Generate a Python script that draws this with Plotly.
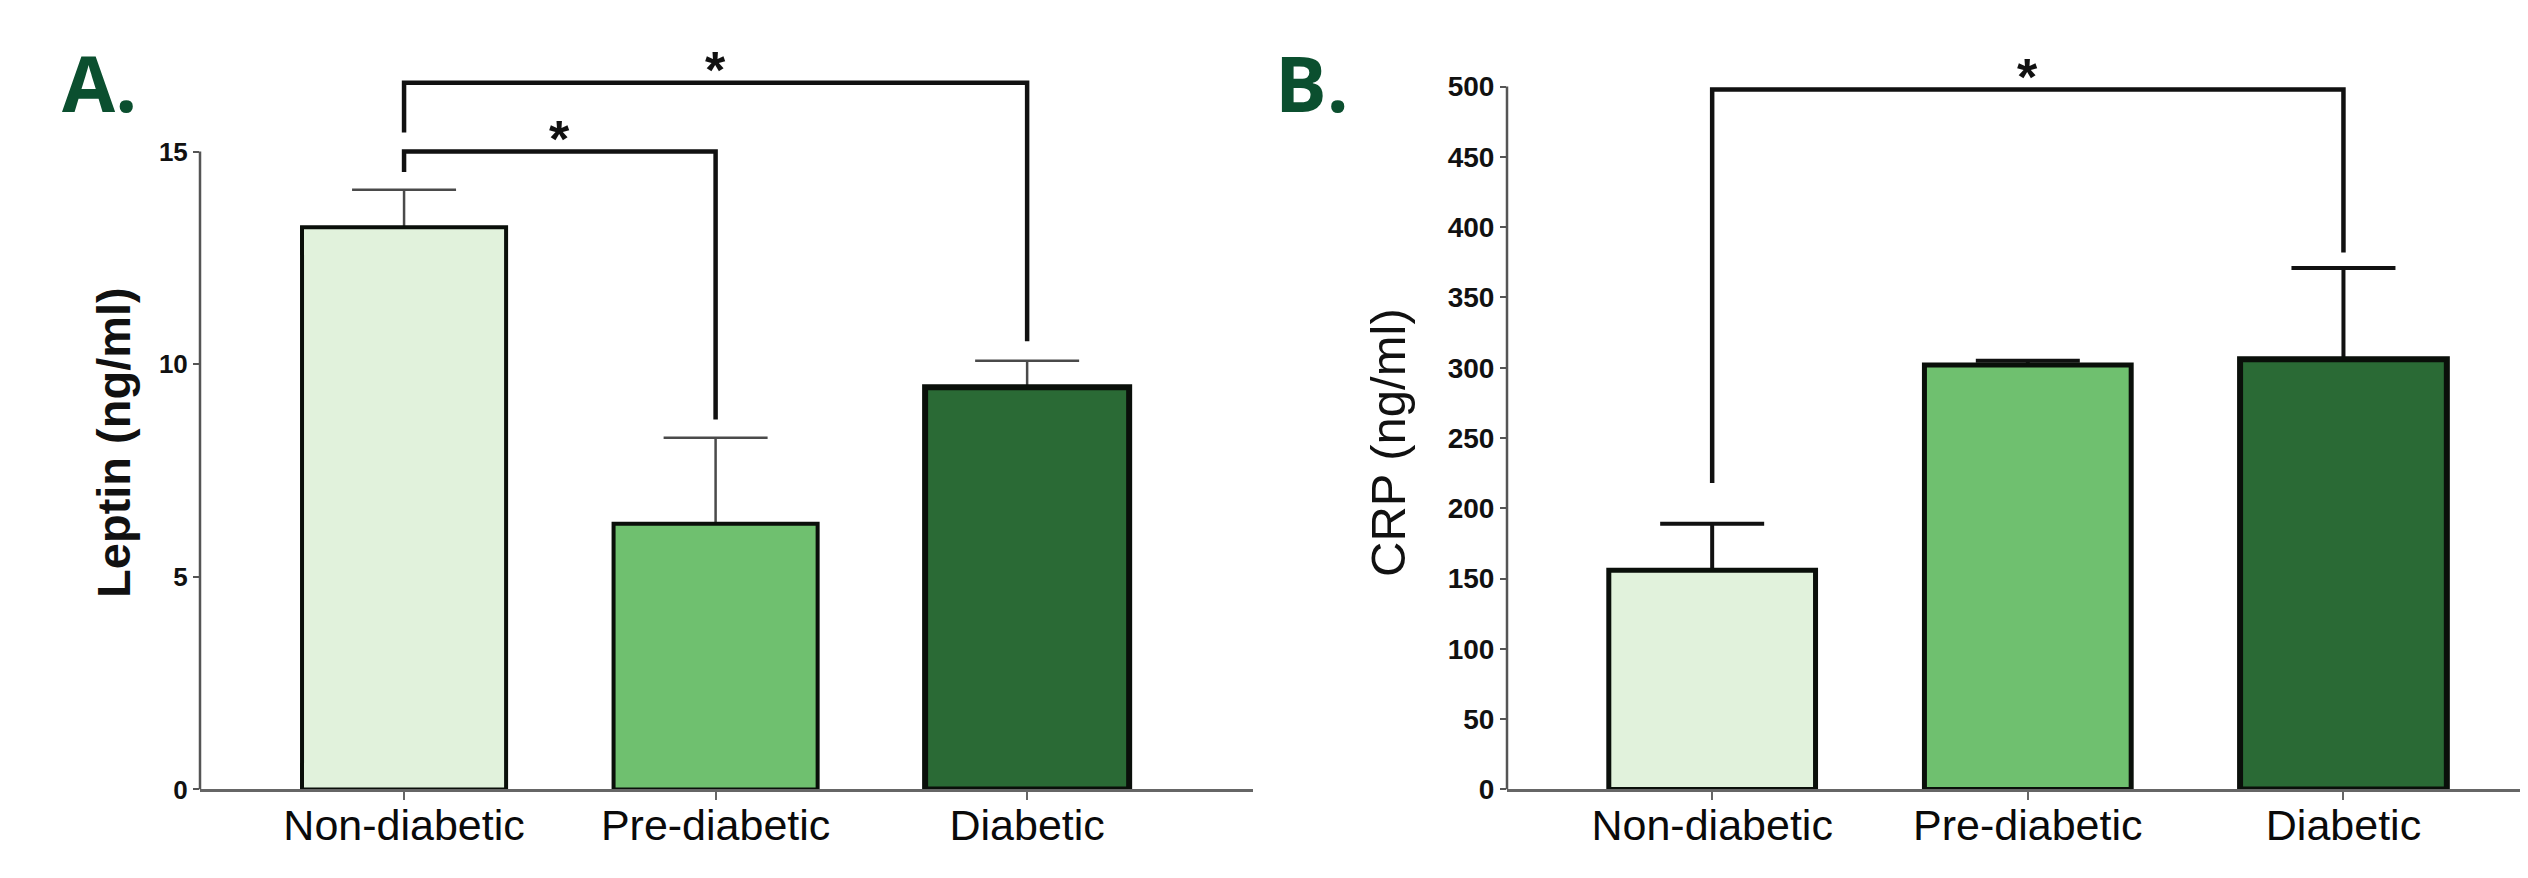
import plotly.graph_objects as go

# ---------------- data ----------------
categories = ["Non-diabetic", "Pre-diabetic", "Diabetic"]
bar_colors = ["#e1f2dc", "#6fc06f", "#2a6a35"]

leptin_mean = [13.22, 6.25, 9.46]
leptin_err = [0.88, 2.02, 0.62]

crp_mean = [156, 302, 306]
crp_err = [33, 3, 65]

# significance brackets: (start index, end index, top, left-leg bottom, right-leg bottom, star)
leptin_brackets = [(0, 1, 15.0, 14.52, 8.7, "*"), (0, 2, 16.62, 15.45, 10.54, "*")]
crp_brackets = [(0, 2, 498, 218, 382, "*")]

leptin_ticks = [0, 5, 10, 15]
crp_ticks = [0, 50, 100, 150, 200, 250, 300, 350, 400, 450, 500]

W, H = 2528, 878
fig = go.Figure()

def add_panel(xa, ya, means, errs, err_color, err_thick, outline_w):
    xs = list(range(len(categories)))
    # error bars (drawn first, bar outline then covers the lower cross bar)
    fig.add_trace(go.Bar(
        x=xs, y=means, width=0.655, xaxis=xa, yaxis=ya,
        marker=dict(color="rgba(0,0,0,0)", line=dict(width=0)),
        error_y=dict(type="data", array=errs, arrayminus=[0] * len(errs), symmetric=False,
                     color=err_color, thickness=err_thick, width=52),
        showlegend=False, hoverinfo="skip"))
    fig.add_trace(go.Bar(
        x=xs, y=means, width=0.655, xaxis=xa, yaxis=ya,
        marker=dict(color=bar_colors, line=dict(color="#0a0f0a", width=outline_w)),
        showlegend=False))

add_panel("x", "y", leptin_mean, leptin_err, "#4a4a4a", 2.5, [4, 4, 6])
add_panel("x2", "y2", crp_mean, crp_err, "#111111", 4, [5, 5, 6])

shapes = []
annotations = []

def add_brackets(xref, yref, brackets, star_offset):
    for (i, j, top, lb, rb, star) in brackets:
        shapes.append(dict(type="path", xref=xref, yref=yref,
                           path=f"M {i},{lb} L {i},{top} L {j},{top} L {j},{rb}",
                           line=dict(color="#111111", width=4.5)))
        annotations.append(dict(x=(i + j) / 2, y=top + star_offset, xref=xref, yref=yref,
                                text=star, showarrow=False, yanchor="middle",
                                font=dict(family="Liberation Sans", size=52, color="#111111", weight="bold")))

add_brackets("x", "y", leptin_brackets, 0.3)
add_brackets("x2", "y2", crp_brackets, 9)

# y axis lines limited to tick range
shapes.append(dict(type="line", xref="x domain", yref="y", x0=0, x1=0, y0=0, y1=max(leptin_ticks),
                   line=dict(color="#555555", width=2.5)))
shapes.append(dict(type="line", xref="x2 domain", yref="y2", x0=0, x1=0, y0=0, y1=max(crp_ticks),
                   line=dict(color="#555555", width=2.5)))

# panel letters
annotations.append(dict(x=52 / W, y=(H - 76) / H, xref="paper", yref="paper", text="A.",
                        showarrow=False, xanchor="left", yanchor="middle",
                        font=dict(family="Open Sans", size=77, color="#0b4f2f", weight="bold")))
annotations.append(dict(x=1265 / W, y=(H - 76) / H, xref="paper", yref="paper", text="B.",
                        showarrow=False, xanchor="left", yanchor="middle",
                        font=dict(family="Open Sans", size=77, color="#0b4f2f", weight="bold")))

# y titles
annotations.append(dict(x=106 / W, y=(H - 443) / H, xref="paper", yref="paper", text="Leptin (ng/ml)",
                        showarrow=False, textangle=-90, xanchor="center", yanchor="middle",
                        font=dict(family="Liberation Sans", size=47, color="#111111", weight="bold")))
annotations.append(dict(x=1380 / W, y=(H - 443) / H, xref="paper", yref="paper", text="CRP (ng/ml)",
                        showarrow=False, textangle=-90, xanchor="center", yanchor="middle",
                        font=dict(family="Liberation Sans", size=49, color="#111111")))

ydom = [(H - 796) / H, (H - 22.8) / H]
xaxis_common = dict(
    tickmode="array", tickvals=[0, 1, 2], ticktext=categories,
    showline=True, linecolor="#666666", linewidth=2.5,
    ticks="outside", ticklen=8, tickwidth=2, tickcolor="#666666",
    ticklabelstandoff=-12,
    tickfont=dict(family="Liberation Sans", size=43, color="#0a0a0a"),
    showgrid=False, zeroline=False, fixedrange=True)

fig.update_layout(
    width=W, height=H,
    margin=dict(l=0, r=0, t=0, b=0),
    paper_bgcolor="white", plot_bgcolor="white",
    barmode="overlay",
    shapes=shapes, annotations=annotations,
    xaxis=dict(domain=[192 / W, 1245 / W], range=[-0.655, 2.725], anchor="y", **xaxis_common),
    xaxis2=dict(domain=[1499 / W, 1.0], range=[-0.65, 2.61], anchor="y2", **xaxis_common),
    yaxis=dict(domain=ydom, range=[0, 17.85], anchor="x", tickvals=leptin_ticks,
               ticks="outside", ticklen=6, tickwidth=2, tickcolor="#555555",
               tickfont=dict(family="Liberation Sans", size=26, color="#111111", weight="bold"),
               showline=False, showgrid=False, zeroline=False),
    yaxis2=dict(domain=ydom, range=[0, 540], anchor="x2", tickvals=crp_ticks,
                ticks="outside", ticklen=6, tickwidth=2, tickcolor="#555555",
                tickfont=dict(family="Liberation Sans", size=28, color="#111111", weight="bold"),
                showline=False, showgrid=False, zeroline=False),
)

fig.write_html("out.html")
